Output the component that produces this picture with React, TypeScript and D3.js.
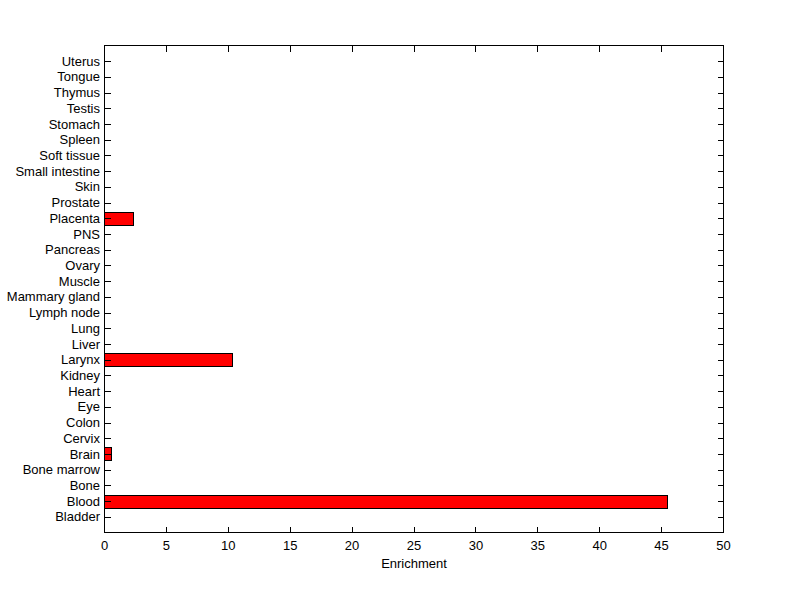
import React from 'react'
import * as d3 from 'd3'

const tissues = [
  'Bladder', 'Blood', 'Bone', 'Bone marrow', 'Brain', 'Cervix', 'Colon', 'Eye', 'Heart',
  'Kidney', 'Larynx', 'Liver', 'Lung', 'Lymph node', 'Mammary gland', 'Muscle', 'Ovary',
  'Pancreas', 'PNS', 'Placenta', 'Prostate', 'Skin', 'Small intestine', 'Soft tissue',
  'Spleen', 'Stomach', 'Testis', 'Thymus', 'Tongue', 'Uterus',
]
const enrichment = [
  0, 45.5, 0, 0, 0.57, 0, 0, 0, 0,
  0, 10.3, 0, 0, 0, 0, 0, 0,
  0, 0, 2.37, 0, 0, 0, 0,
  0, 0, 0, 0, 0, 0,
]
const xTicks = [0, 5, 10, 15, 20, 25, 30, 35, 40, 45, 50]

const App = () => {
  const ref = React.useRef<SVGSVGElement>(null)
  const W = 800
  const H = 599

  React.useEffect(() => {
    const left = 104.5
    const right = 723.5
    const top = 45.5
    const bottom = 532.5
    const tick = 6
    const font = '"Liberation Sans", Arial, sans-serif'

    const x = d3.scaleLinear().domain([0, 50]).range([left, right])
    // MATLAB barh: categories at 1..n, limits [0, n+1]
    const y = d3.scaleLinear().domain([0, tissues.length + 1]).range([bottom, top])
    const barH = Math.round(y(0) - y(0.8))

    const svg = d3.select(ref.current)
    svg.selectAll('*').remove()
    svg.append('rect').attr('width', W).attr('height', H).attr('fill', '#fff')

    svg.append('g')
      .selectAll('rect')
      .data(tissues.map((t, i) => ({ t, v: enrichment[i], i })).filter((d) => d.v > 0))
      .join('rect')
      .attr('x', left)
      .attr('y', (d) => Math.round(y(d.i + 1) - barH / 2) + 0.5)
      .attr('width', (d) => Math.round(x(d.v) - x(0)))
      .attr('height', barH)
      .attr('fill', '#ff0000')
      .attr('stroke', '#000')
      .attr('stroke-width', 1)
      .attr('shape-rendering', 'crispEdges')

    const axes = svg.append('g')
      .attr('stroke', '#000')
      .attr('stroke-width', 1)
      .attr('fill', 'none')
      .attr('shape-rendering', 'crispEdges')
    axes.append('rect')
      .attr('x', left).attr('y', top)
      .attr('width', right - left).attr('height', bottom - top)

    tissues.forEach((_, i) => {
      const yy = Math.round(y(i + 1)) + 0.5
      axes.append('line').attr('x1', left).attr('x2', left + tick).attr('y1', yy).attr('y2', yy)
      axes.append('line').attr('x1', right).attr('x2', right - tick).attr('y1', yy).attr('y2', yy)
    })
    xTicks.forEach((t) => {
      const xx = Math.round(x(t) - 0.5) + 0.5
      axes.append('line').attr('x1', xx).attr('x2', xx).attr('y1', bottom).attr('y2', bottom - tick)
      axes.append('line').attr('x1', xx).attr('x2', xx).attr('y1', top).attr('y2', top + tick)
    })

    svg.append('g')
      .style('font', `13px ${font}`)
      .attr('text-anchor', 'end')
      .selectAll('text')
      .data(tissues)
      .join('text')
      .attr('x', left - 4.5)
      .attr('y', (_, i) => y(i + 1))
      .attr('dy', '0.35em')
      .text((d) => d)

    svg.append('g')
      .style('font', `13px ${font}`)
      .attr('text-anchor', 'middle')
      .selectAll('text')
      .data(xTicks)
      .join('text')
      .attr('x', (d) => x(d))
      .attr('y', bottom + 17)
      .text((d) => d)

    svg.append('text')
      .style('font', `13px ${font}`)
      .attr('text-anchor', 'middle')
      .attr('x', (left + right) / 2)
      .attr('y', bottom + 35)
      .text('Enrichment')
  }, [])

  return (
    <svg
      ref={ref}
      width={W}
      height={H}
      style={{ position: 'absolute', left: 0, top: 0, display: 'block' }}
    />
  )
}

export default App
